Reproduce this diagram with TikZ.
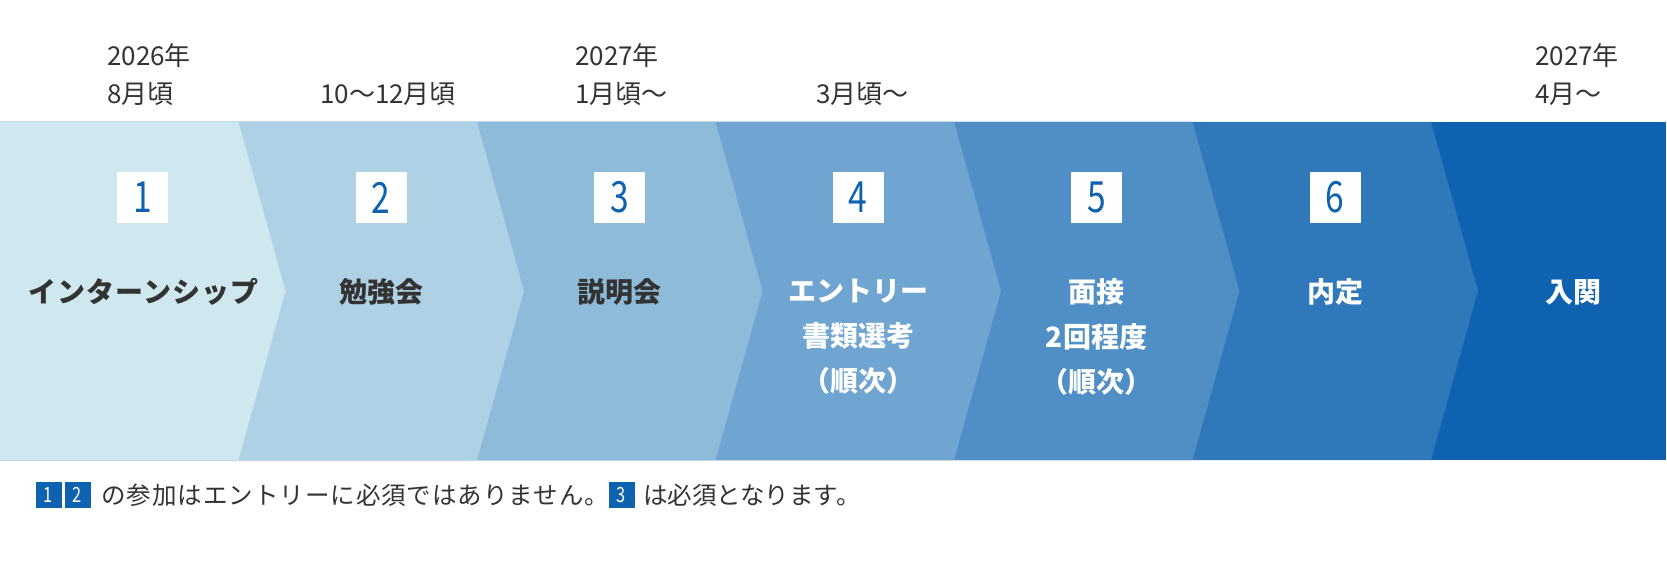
\documentclass[tikz,border=0pt]{standalone}
\usepackage{fontspec}
\setmainfont{Noto Sans CJK JP}
\usepackage{graphicx}
\usepackage{tikz}

\definecolor{stepA}{HTML}{CFE7EF}
\definecolor{stepB}{HTML}{AED1E5}
\definecolor{stepC}{HTML}{8FBBDB}
\definecolor{stepD}{HTML}{6FA5D0}
\definecolor{stepE}{HTML}{4F8FC5}
\definecolor{stepF}{HTML}{2F79BA}
\definecolor{stepG}{HTML}{0E62AF}
\definecolor{textgray}{HTML}{333333}

\newcommand{\narrow}[1]{\scalebox{0.78}[1]{#1}}

\tikzset{
  numbox/.style={fill=white, minimum width=51, minimum height=51, inner sep=0,
    text=stepG, font=\fontsize{43}{43}\selectfont},
  darklabel/.style={text=textgray, align=center, inner sep=0,
    font=\bfseries\fontsize{28}{45}\selectfont},
  lightlabel/.style={darklabel, text=white},
  datetext/.style={text=textgray, align=left, anchor=west, inner sep=0,
    font=\fontsize{26}{38}\selectfont},
  notebox/.style={fill=stepG, minimum width=26, minimum height=26, inner sep=0,
    text=white, font=\fontsize{21}{21}\selectfont},
  notetext/.style={text=textgray, anchor=west, inner sep=0,
    font=\fontsize{24.5}{24.5}\selectfont}
}

\begin{document}
\begin{tikzpicture}[x=1pt, y=-1pt]
        \useasboundingbox (0, 0) rectangle (1667, 583);
        % band, last step first so each chevron lies on the next one
        \fill[stepG] (0, 122) rectangle (1666, 460);
        \foreach \k/\c in {6/stepF, 5/stepE, 4/stepD, 3/stepC, 2/stepB, 1/stepA} {
                \fill[\c] (0, 122) -- ({238.5*\k}, 122) -- ({238.5*\k + 47}, 291)
                        -- ({238.5*\k}, 460) -- (0, 460) -- cycle;
        }
        \foreach \k in {1, ..., 6} {
                \node[numbox] (num\k) at ({142.5 + 238.5*(\k - 1)}, 197.5) {\narrow{\k}};
        }
        \node[darklabel] (lbl1) at (143.5, 292) {\addfontfeatures{LetterSpace=4}インターンシップ};
        \node[darklabel] (lbl2) at (381, 292) {勉強会};
        \node[darklabel] (lbl3) at (619.5, 292) {説明会};
        \node[lightlabel] (lbl4) at (858, 337) {エントリー\\書類選考\\（順次）};
        \node[lightlabel] (lbl5) at (1096.5, 337) {面接\\2回程度\\（順次）};
        \node[lightlabel] (lbl6) at (1335, 292) {内定};
        \node[lightlabel] (lbl7) at (1573.5, 292) {入関};

        \node[datetext] (date1) at (107, 75) {2026年\\8月頃};
        \node[datetext] (date2) at (320, 94) {10〜12月頃};
        \node[datetext] (date3) at (575, 75) {2027年\\1月頃〜};
        \node[datetext] (date4) at (816, 94) {3月頃〜};
        \node[datetext] (date7) at (1535, 75) {2027年\\4月〜};

        \node[notebox] (note1) at (48.5, 495) {\narrow{1}};
        \node[notebox] (note2) at (77.5, 495) {\narrow{2}};
        \node[notetext] (notetxt1) at (101, 495) {\addfontfeatures{LetterSpace=4}の参加はエントリーに必須ではありません。};
        \node[notebox] (note3) at (621.5, 495) {\narrow{3}};
        \node[notetext] (notetxt3) at (643, 495) {は必須となります。};
\end{tikzpicture}
\end{document}
